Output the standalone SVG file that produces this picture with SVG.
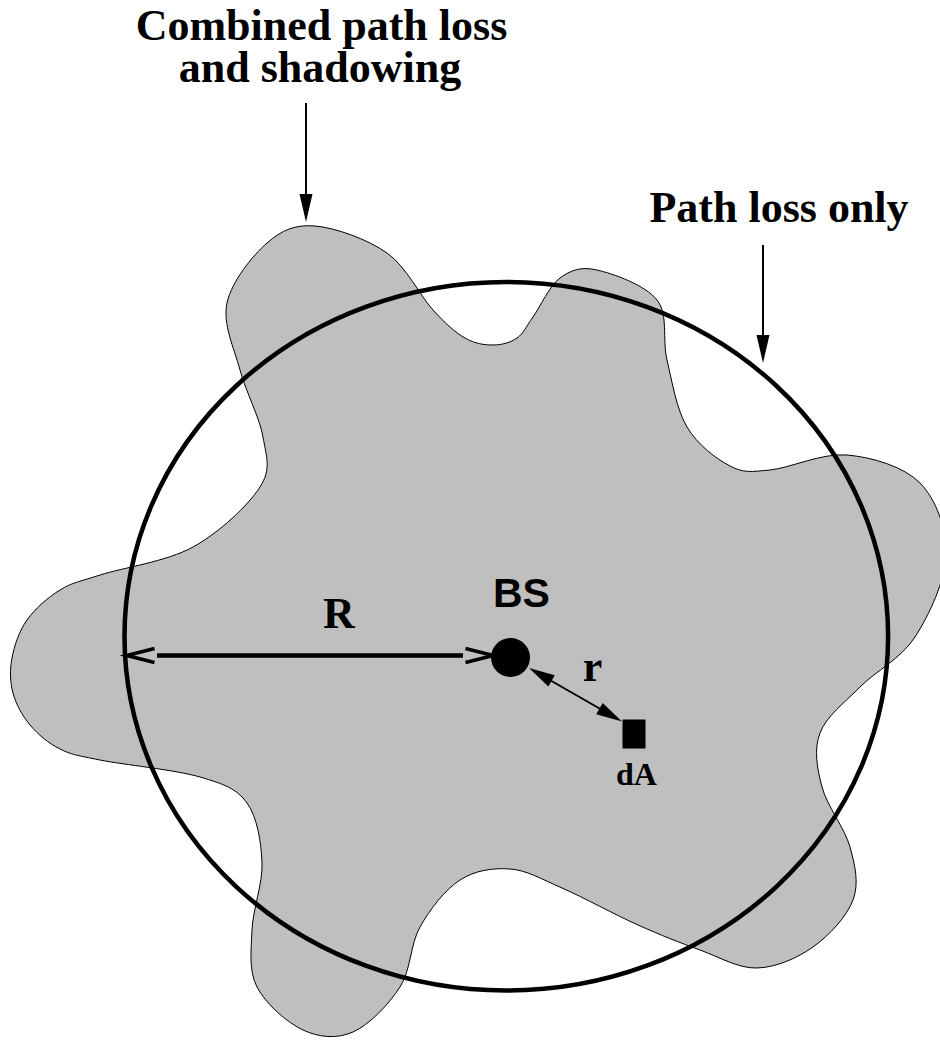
<svg xmlns="http://www.w3.org/2000/svg" width="940" height="1040" viewBox="0 0 940 1040">
<style>
.lbl{font-family:"Liberation Serif","Times New Roman",serif;font-weight:bold;fill:#000;text-anchor:middle}
.sans{font-family:"Liberation Sans",Arial,sans-serif;font-weight:bold;fill:#000;text-anchor:middle}
.shaft{stroke:#000;fill:none}
.head{fill:#000;stroke:none}
.chev{fill:none;stroke:#000;stroke-width:3.5;stroke-linejoin:miter;stroke-miterlimit:10}
</style>
<defs>
<path id="tri" d="M0,0 L-6.5,-28 L6.5,-28 Z"/>
<path id="tri-s" d="M0,0 L-6.5,-26 L6.5,-26 Z"/>
<path id="chev" d="M32,-7 L4.2,0 L32,7"/>
</defs>
<rect width="940" height="1040" fill="#fff"/>
<g id="shadowing-region">
<path fill="#bfbfbf" stroke="#000" stroke-width="1" d="M315,226 C335,227.7 367.3,239 387,253 C406.7,267 420,295.8 433,310 C446,324.2 455,332.2 465,338 C475,343.8 484.3,345 493,345 C501.7,345 510.3,342.7 517,338 C523.7,333.3 525.8,327 533,317 C540.2,307 549.3,285.8 560,278 C570.7,270.2 580.8,266.3 597,270 C613.2,273.7 645.3,285 657,300 C668.7,315 662,338.8 667,360 C672,381.2 676.5,409.3 687,427 C697.5,444.7 716.2,458.8 730,466 C743.8,473.2 750.5,471.8 770,470 C789.5,468.2 822,452.8 847,455 C872,457.2 903.5,466.3 920,483 C936.5,499.7 946.8,529.3 946,555 C945.2,580.7 929.3,615 915,637 C900.7,659 875.8,671 860,687 C844.2,703 826.3,716.3 820,733 C813.7,749.7 817,768 822,787 C827,806 844.8,828.2 850,847 C855.2,865.8 859.2,883.3 853,900 C846.8,916.7 829,935.7 813,947 C797,958.3 775.8,967.5 757,968 C738.2,968.5 719.8,957.2 700,950 C680.2,942.8 661,935.3 638,925 C615,914.7 583.3,897.3 562,888 C540.7,878.7 527,870.3 510,869 C493,867.7 475,870.3 460,880 C445,889.7 430,909.2 420,927 C410,944.8 411.2,969.5 400,987 C388.8,1004.5 369.2,1024.8 353,1032 C336.8,1039.2 319,1037.5 303,1030 C287,1022.5 265.5,1003.7 257,987 C248.5,970.3 251.2,950.7 252,930 C252.8,909.3 262.8,884.2 262,863 C261.2,841.8 257.3,817.3 247,803 C236.7,788.7 224.5,784.2 200,777 C175.5,769.8 123.3,764.7 100,760 C76.7,755.3 71.7,754.8 60,749 C48.3,743.2 37.8,734.3 30,725 C22.2,715.7 16,704.2 13,693 C10,681.8 9.7,670.2 12,658 C14.3,645.8 19,631.3 27,620 C35,608.7 47.8,597.5 60,590 C72.2,582.5 77.8,582.2 100,575 C122.2,567.8 166.3,561.7 193,547 C219.7,532.3 248.3,505.3 260,487 C271.7,468.7 266.3,456.5 263,437 C259.7,417.5 246,392.3 240,370 C234,347.7 222.5,324.2 227,303 C231.5,281.8 252.3,255.8 267,243 C281.7,230.2 295,224.3 315,226 Z"/>
</g>
<g id="path-loss-circle">
<ellipse cx="506.3" cy="636.3" rx="381.8" ry="354.3" fill="none" stroke="#000" stroke-width="4.5"/>
</g>
<g id="connectors">
<g id="arrow-combined">
<line class="shaft" x1="306" y1="103" x2="306" y2="196" stroke-width="2"/>
<use href="#tri" class="head" transform="translate(306,222)"/>
</g>
<g id="arrow-pathloss">
<line class="shaft" x1="763" y1="245" x2="763" y2="337" stroke-width="2"/>
<use href="#tri" class="head" transform="translate(763,363)"/>
</g>
<g id="arrow-R">
<line class="shaft" x1="157" y1="655.5" x2="463" y2="655.5" stroke-width="4.5"/>
<use href="#chev" class="chev" transform="translate(122.5,655.5)"/>
<use href="#chev" class="chev" transform="translate(497.5,655.5) scale(-1,1)"/>
</g>
<g id="arrow-r">
<line class="shaft" x1="548" y1="679" x2="603" y2="710.5" stroke-width="2"/>
<use href="#tri-s" class="head" transform="translate(529,668) rotate(119.9)"/>
<use href="#tri-s" class="head" transform="translate(622,721.5) rotate(-60.1)"/>
</g>
</g>
<g id="bs">
<circle cx="510.5" cy="657.5" r="19.5" fill="#000"/>
<text class="sans" x="521.5" y="607" font-size="41">BS</text>
</g>
<g id="dA">
<rect x="622.5" y="719.5" width="23" height="29" fill="#000"/>
<text class="lbl" x="636.5" y="785" font-size="32">dA</text>
</g>
<g id="label-combined">
<text class="lbl" x="321.5" y="40" font-size="44">Combined path loss</text>
<text class="lbl" x="320" y="82" font-size="44">and shadowing</text>
</g>
<g id="label-pathloss">
<text class="lbl" x="779" y="222" font-size="44">Path loss only</text>
</g>
<g id="label-R">
<text class="lbl" x="339" y="628" font-size="44">R</text>
</g>
<g id="label-r">
<text class="lbl" x="592.5" y="681" font-size="44">r</text>
</g>
</svg>
